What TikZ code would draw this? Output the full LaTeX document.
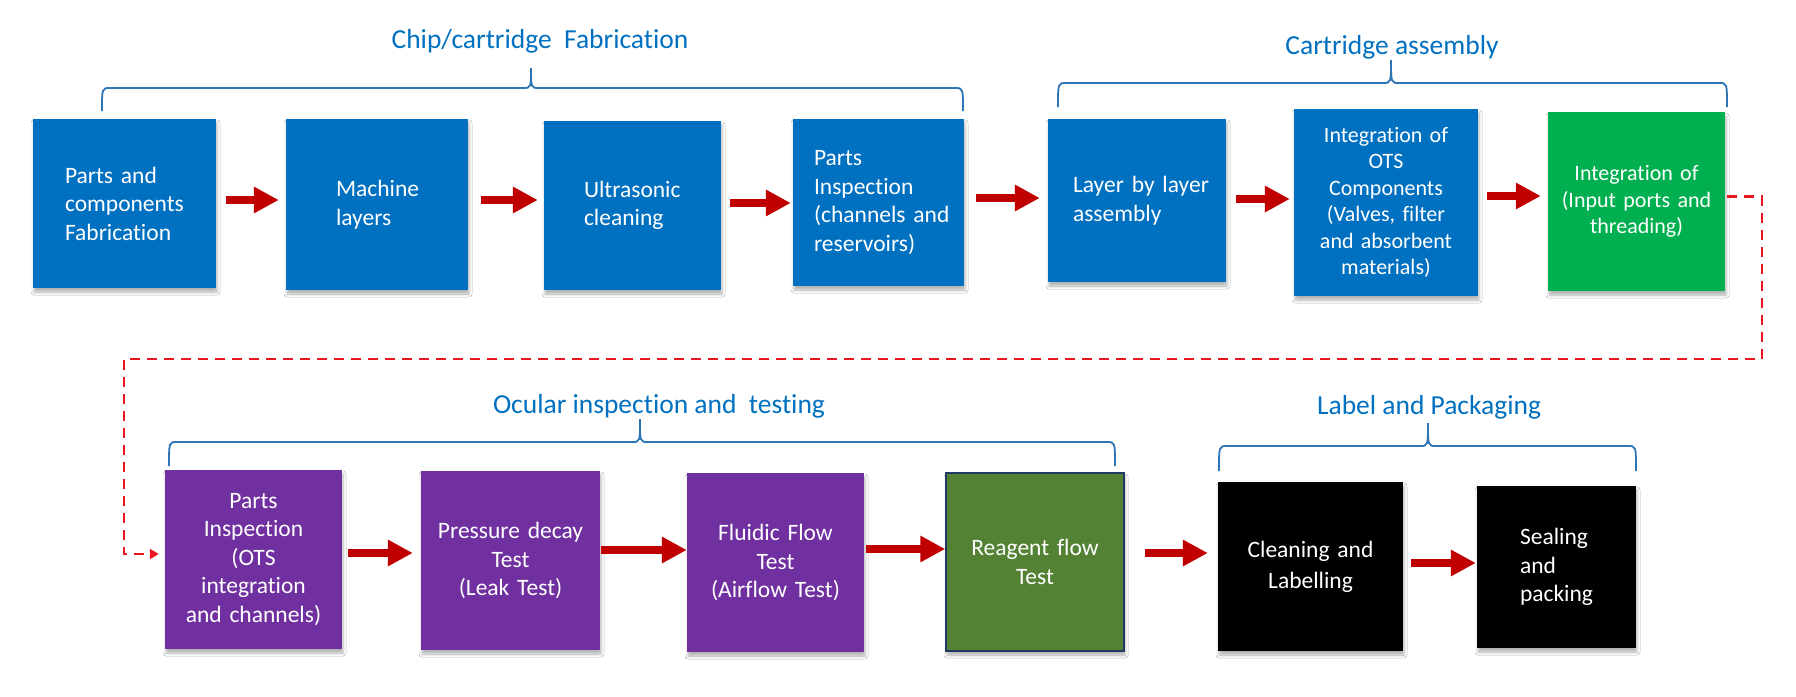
\documentclass[tikz,border=0pt]{standalone}
\usepackage{fontspec}
\setmainfont{Carlito}[Ligatures=NoCommon]
\usetikzlibrary{calc,arrows.meta,shadows.blur}
\definecolor{boxblue}{HTML}{0070C0}
\definecolor{boxgreen}{HTML}{00B050}
\definecolor{boxpurple}{HTML}{7030A0}
\definecolor{boxdkgreen}{HTML}{548235}
\definecolor{navyline}{HTML}{203864}
\definecolor{arrowred}{HTML}{C00000}
\definecolor{dashred}{HTML}{E8161E}
\definecolor{bracecol}{HTML}{2E75B6}
\definecolor{titlecol}{HTML}{0070C0}
\newcommand\groupbrace[6]{\draw[brace] (#1,#6) .. controls (#1,#4) .. (#1+8,#4) -- (#3-8,#4) .. controls (#3,#4) .. (#3,#5) .. controls (#3,#4) .. (#3+8,#4) -- (#2-8,#4) .. controls (#2,#4) .. (#2,#6);}
\tikzset{
  x=1pt, y=-1pt,
  stepbox/.style={inner sep=0pt, text=white, font=\fontsize{23.5}{28.5}\selectfont,
    blur shadow={shadow xshift=1pt, shadow yshift=-4pt, shadow blur radius=3pt, shadow opacity=30}},
  smallfont/.style={font=\fontsize{22}{26.5}\selectfont},
  bluebox/.style={stepbox, fill=boxblue},
  greenbox/.style={stepbox, fill=boxgreen},
  purplebox/.style={stepbox, fill=boxpurple},
  dkgreenbox/.style={stepbox, fill=boxdkgreen, draw=navyline, line width=1.5pt},
  blackbox/.style={stepbox, fill=black},
  flow/.style={draw=arrowred, line width=8pt, -{Triangle[width=25pt,length=25pt]}},
  dashline/.style={draw=dashred, line width=2.6pt, dash pattern=on 10pt off 7pt, -{Triangle[width=10pt,length=9pt]}},
  brace/.style={draw=bracecol, line width=1.8pt},
  grouptitle/.style={anchor=base, text=titlecol, font=\fontsize{27.5}{32}\selectfont, inner sep=0pt},
}
\begin{document}
\begin{tikzpicture}
\fill[white] (0,0) rectangle (1796,696);
\useasboundingbox (0,0) rectangle (1796,696);

% top row
\node[bluebox, minimum width=183pt, minimum height=169pt, text width=119pt, align=left] (b1) at (124.5,203.5) {Parts~and\\components\\Fabrication};
\node[bluebox, minimum width=182pt, minimum height=171pt, text width=82pt, align=left] (b2) at (377,204.5) {Machine\\layers};
\node[bluebox, minimum width=177pt, minimum height=169pt, text width=97pt, align=left] (b3) at (632.5,205.5) {Ultrasonic\\cleaning};
\node[bluebox, minimum width=171pt, minimum height=167pt, text width=129pt, align=left] (b4) at (878.5,202.5) {Parts\\Inspection\\(channels~and\\reservoirs)};
\node[bluebox, minimum width=178pt, minimum height=163pt, text width=128pt, align=left] (b5) at (1137,200.5) {Layer~by~layer\\assembly};
\node[bluebox, smallfont, minimum width=184pt, minimum height=187pt, text width=184pt, align=center] (b6) at (1386,202.5) {Integration of\\OTS\\Components\\(Valves, filter\\and absorbent\\materials)};
\node[greenbox, smallfont, minimum width=177pt, minimum height=179pt, text width=177pt, align=center] (b7) at (1636.5,201.5) {Integration of\\(Input ports and\\threading)\\[14pt]};

% bottom row
\node[purplebox, minimum width=177pt, minimum height=179pt, text width=177pt, align=center] (b8) at (253.5,559.5) {Parts\\Inspection\\(OTS\\integration\\and channels)};
\node[purplebox, minimum width=179pt, minimum height=179pt, text width=179pt, align=center] (b9) at (510.5,560.5) {Pressure decay\\Test\\(Leak Test)};
\node[purplebox, minimum width=177pt, minimum height=179pt, text width=177pt, align=center] (b10) at (775.5,562.5) {Fluidic Flow\\Test\\(Airflow Test)};
\node[dkgreenbox, minimum width=178pt, minimum height=178pt, text width=178pt, align=center] (b11) at (1035,562) {Reagent flow\\Test\\[10pt]};
\node[blackbox, minimum width=185pt, minimum height=169pt, text width=185pt, align=center, font=\fontsize{23.5}{31}\selectfont] (b12) at (1310.5,566.5) {Cleaning and\\Labelling};
\node[blackbox, minimum width=159pt, minimum height=162pt, text width=73pt, align=left] (b13) at (1556.5,567) {Sealing\\and\\packing\\[10pt]};

% group titles
\node[grouptitle] (t1) at (540,48) {Chip/cartridge~ Fabrication};
\node[grouptitle] (t2) at (1392,54) {Cartridge assembly};
\node[grouptitle] (t3) at (659,413) {Ocular inspection and~ testing};
\node[grouptitle] (t4) at (1429,414) {Label and Packaging};

% braces
\groupbrace{102}{963}{531}{88}{68}{111}
\groupbrace{1058}{1727}{1391}{83}{60}{107}
\groupbrace{169}{1115}{640}{442}{419}{466}
\groupbrace{1219}{1636}{1428}{446}{423}{471}

% flow arrows
\draw[flow] ($(b1.east)+(10,-3.5)$) -- ($(b1.east -| b2.west)+(-7,-3.5)$);
\draw[flow] ($(b2.east)+(13,-4.5)$) -- ($(b2.east -| b3.west)+(-6,-4.5)$);
\draw[flow] ($(b3.east)+(9,-2.5)$) -- ($(b3.east -| b4.west)+(-2,-2.5)$);
\draw[flow] ($(b4.east)+(12,-4.5)$) -- ($(b4.east -| b5.west)+(-8,-4.5)$);
\draw[flow] ($(b5.east)+(10,-1.5)$) -- ($(b5.east -| b6.west)+(-4,-1.5)$);
\draw[flow] ($(b6.east)+(9,-6.5)$) -- ($(b6.east -| b7.west)+(-7,-6.5)$);
\draw[flow] ($(b8.east)+(6,-6.5)$) -- ($(b8.east -| b9.west)+(-8,-6.5)$);
\draw[flow] ($(b9.east)+(1,-10.5)$) -- ($(b9.east -| b10.west)+(0,-10.5)$);
\draw[flow] ($(b10.east)+(2,-13.5)$) -- ($(b10.east -| b11.west)+(0,-13.5)$);
\draw[flow] ($(b11.east)+(20,-9)$) -- ($(b11.east -| b12.west)+(-10,-9)$);
\draw[flow] ($(b12.east)+(8,-3.5)$) -- ($(b12.east -| b13.west)+(-1,-3.5)$);

% dashed return connector
\coordinate (r1) at (1762,359);
\coordinate (l1) at (124,359);
\draw[dashline] ($(b7.east)+(2,-5)$) -| (r1) -- (l1) |- ($(b8.west)+(-6,-5.5)$);
\end{tikzpicture}
\end{document}
